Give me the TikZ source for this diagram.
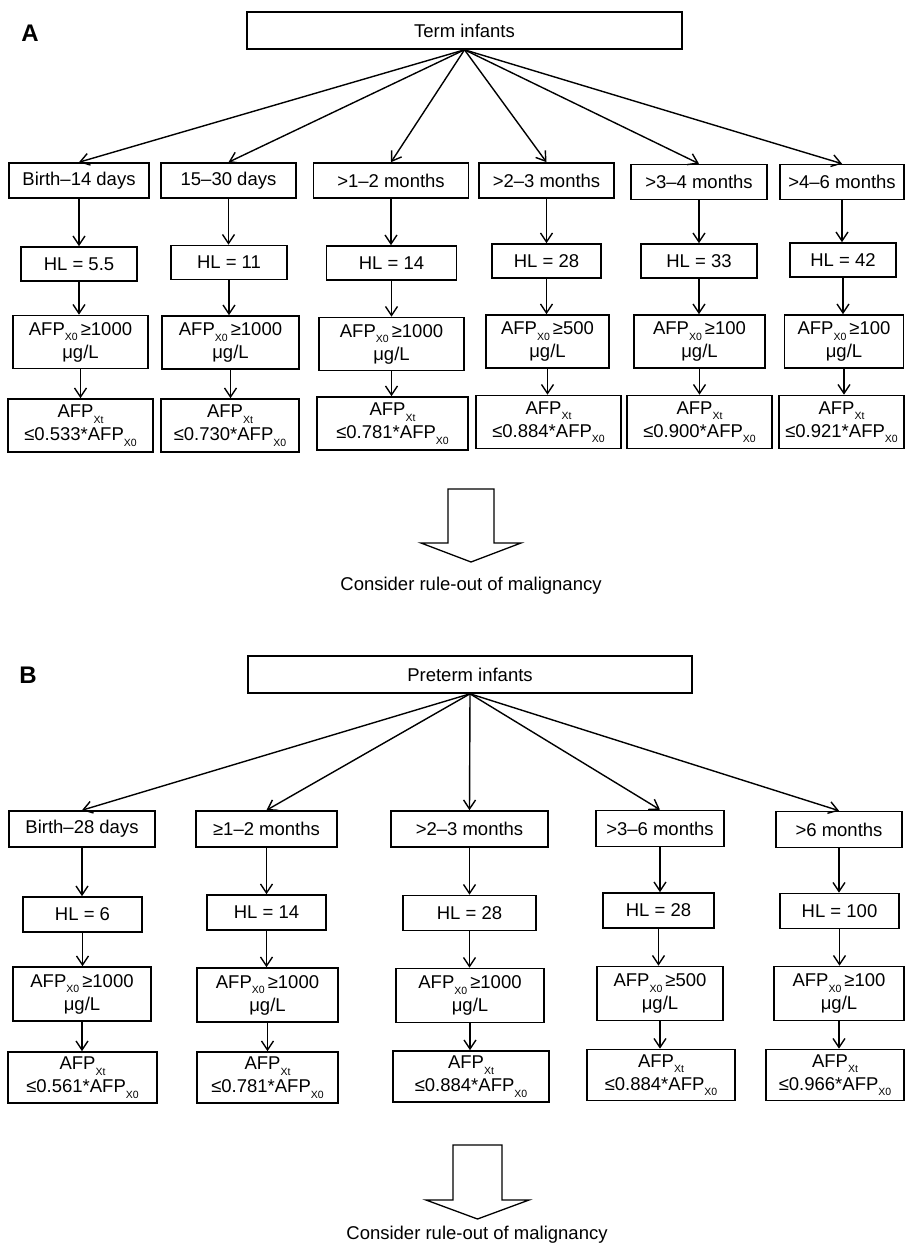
\documentclass[tikz,border=0pt]{standalone}
\usepackage{fontspec}
\setmainfont{Liberation Sans}
\usetikzlibrary{arrows.meta}

\newcommand{\lowsub}[1]{\raisebox{-5.5pt}{\fontsize{10.5}{10.5}\selectfont #1}}

\begin{document}
\begin{tikzpicture}[x=1pt,y=-1pt,
    box/.style={draw,line width=1.6pt,inner sep=0pt,align=center,font=\fontsize{18.5}{23}\selectfont},
    sz/.style 2 args={minimum width=#1,minimum height=#2},
    link/.style={->,line width=1.4pt},
    panel/.style={font=\fontsize{24}{24}\selectfont\bfseries},
    >={Straight Barb[length=9pt,width=12pt,line width=1.4pt]}]
    \useasboundingbox (0,0) rectangle (905,1246);

    % ---------- Panel A ----------
    \node[panel] (labA) at (30,33) {A};
    \node[box,sz={435}{37}] (topA) at (464.5,30.5) {Term infants};

    % Age groups
    \node[box,sz={140}{35}] (ageA1) at (79,180.5) {Birth–14 days};
    \node[box,sz={135}{35}] (ageA2) at (228.5,180.5) {15–30 days};
    \node[box,sz={155}{35}] (ageA3) at (391,180.5) {>1–2 months};
    \node[box,sz={135}{35}] (ageA4) at (546.5,180.5) {>2–3 months};
    \node[box,sz={136}{35}] (ageA5) at (699,182) {>3–4 months};
    \node[box,sz={124}{35}] (ageA6) at (842,182) {>4–6 months};

    % Half-lives
    \node[box,sz={116}{34}] (hlA1) at (79,264) {HL = 5.5};
    \node[box,sz={116}{34}] (hlA2) at (229,262.5) {HL = 11};
    \node[box,sz={130}{34}] (hlA3) at (391.5,263) {HL = 14};
    \node[box,sz={109}{34}] (hlA4) at (546.5,261) {HL = 28};
    \node[box,sz={116}{34}] (hlA5) at (699,261) {HL = 33};
    \node[box,sz={106}{34}] (hlA6) at (843,260) {HL = 42};

    % Starting AFP
    \node[box,sz={135}{53}] (startA1) at (80.5,342) {AFP\lowsub{X0}\,≥1000\\μg/L};
    \node[box,sz={137}{53}] (startA2) at (230.5,342.5) {AFP\lowsub{X0}\,≥1000\\μg/L};
    \node[box,sz={145}{53}] (startA3) at (391.5,344) {AFP\lowsub{X0}\,≥1000\\μg/L};
    \node[box,sz={123}{53}] (startA4) at (547.5,341.5) {AFP\lowsub{X0}\,≥500\\μg/L};
    \node[box,sz={131}{53}] (startA5) at (699.5,341.5) {AFP\lowsub{X0}\,≥100\\μg/L};
    \node[box,sz={119}{53}] (startA6) at (844,341.5) {AFP\lowsub{X0}\,≥100\\μg/L};

    % Ratios
    \node[box,sz={145}{53}] (ratioA1) at (80.5,425.5) {AFP\lowsub{Xt}\\≤0.533*AFP\lowsub{X0}};
    \node[box,sz={138}{53}] (ratioA2) at (230,425.5) {AFP\lowsub{Xt}\\≤0.730*AFP\lowsub{X0}};
    \node[box,sz={151}{53}] (ratioA3) at (392.5,423.5) {AFP\lowsub{Xt}\\≤0.781*AFP\lowsub{X0}};
    \node[box,sz={145}{53}] (ratioA4) at (548.5,422) {AFP\lowsub{Xt}\\≤0.884*AFP\lowsub{X0}};
    \node[box,sz={145}{53}] (ratioA5) at (699.5,422) {AFP\lowsub{Xt}\\≤0.900*AFP\lowsub{X0}};
    \node[box,sz={125}{53}] (ratioA6) at (841.5,422) {AFP\lowsub{Xt}\\≤0.921*AFP\lowsub{X0}};

    % Arrows
    \foreach \c in {1,...,6} {
        \draw[link] (topA.south) -- (ageA\c.north);
        \draw[link] (ageA\c.south) -- (ageA\c.south |- hlA\c.north);
        \draw[link] (hlA\c.south) -- (hlA\c.south |- startA\c.north);
        \draw[link] (startA\c.south) -- (startA\c.south |- ratioA\c.north);
    }

    % Outcome
    \draw[line width=1.3pt] (448,489) -- (494,489) -- (494,543) -- (521,543)
        -- (471,562) -- (421,543) -- (448,543) -- cycle;
    \node[font=\fontsize{18.5}{22}\selectfont] (ruleA) at (471,586) {Consider rule-out of malignancy};

    % ---------- Panel B ----------
    \node[panel] (labB) at (28,675) {B};
    \node[box,sz={444}{37}] (topB) at (470,674.5) {Preterm infants};

    % Age groups
    \node[box,sz={146}{36}] (ageB1) at (82,829) {Birth–28 days};
    \node[box,sz={141}{36}] (ageB2) at (266.5,829) {≥1–2 months};
    \node[box,sz={157}{36}] (ageB3) at (469.5,829) {>2–3 months};
    \node[box,sz={128}{36}] (ageB4) at (660,828.5) {>3–6 months};
    \node[box,sz={126}{36}] (ageB5) at (839,829.5) {>6 months};

    % Half-lives
    \node[box,sz={119}{35}] (hlB1) at (82.5,914.5) {HL = 6};
    \node[box,sz={119}{35}] (hlB2) at (266.5,912.5) {HL = 14};
    \node[box,sz={133}{35}] (hlB3) at (469.5,913) {HL = 28};
    \node[box,sz={111}{35}] (hlB4) at (658.5,910.5) {HL = 28};
    \node[box,sz={119}{35}] (hlB5) at (839.5,911) {HL = 100};

    % Starting AFP
    \node[box,sz={138}{54}] (startB1) at (82,994) {AFP\lowsub{X0}\,≥1000\\μg/L};
    \node[box,sz={141}{54}] (startB2) at (267.5,995) {AFP\lowsub{X0}\,≥1000\\μg/L};
    \node[box,sz={148}{54}] (startB3) at (470,995.5) {AFP\lowsub{X0}\,≥1000\\μg/L};
    \node[box,sz={126}{54}] (startB4) at (660,993.5) {AFP\lowsub{X0}\,≥500\\μg/L};
    \node[box,sz={130}{54}] (startB5) at (839,993.5) {AFP\lowsub{X0}\,≥100\\μg/L};

    % Ratios
    \node[box,sz={149}{51}] (ratioB1) at (82.5,1077.5) {AFP\lowsub{Xt}\\≤0.561*AFP\lowsub{X0}};
    \node[box,sz={141}{51}] (ratioB2) at (267.5,1077.5) {AFP\lowsub{Xt}\\≤0.781*AFP\lowsub{X0}};
    \node[box,sz={156}{51}] (ratioB3) at (471,1076.5) {AFP\lowsub{Xt}\\≤0.884*AFP\lowsub{X0}};
    \node[box,sz={148}{51}] (ratioB4) at (661,1075) {AFP\lowsub{Xt}\\≤0.884*AFP\lowsub{X0}};
    \node[box,sz={138}{51}] (ratioB5) at (835,1075) {AFP\lowsub{Xt}\\≤0.966*AFP\lowsub{X0}};

    % Arrows
    \foreach \c in {1,...,5} {
        \draw[link] (topB.south) -- (ageB\c.north);
        \draw[link] (ageB\c.south) -- (ageB\c.south |- hlB\c.north);
        \draw[link] (hlB\c.south) -- (hlB\c.south |- startB\c.north);
        \draw[link] (startB\c.south) -- (startB\c.south |- ratioB\c.north);
    }

    % Outcome
    \draw[line width=1.3pt] (453,1145) -- (502,1145) -- (502,1200) -- (529,1200)
        -- (477.5,1219) -- (426,1200) -- (453,1200) -- cycle;
    \node[font=\fontsize{18.5}{22}\selectfont] (ruleB) at (477,1235) {Consider rule-out of malignancy};

\end{tikzpicture}
\end{document}
